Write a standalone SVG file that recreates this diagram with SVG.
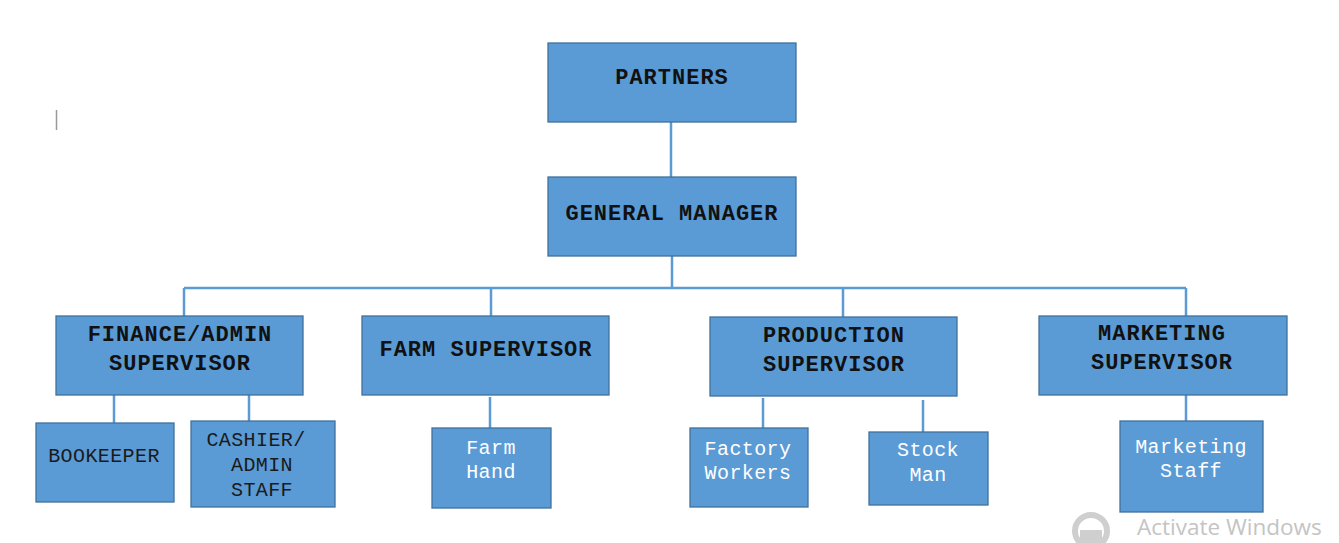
<svg xmlns="http://www.w3.org/2000/svg" width="1339" height="543" viewBox="0 0 1339 543">
<style>
.box{fill:#5B9BD5;stroke:#41719C;stroke-width:1.3}
.b{font-family:"Liberation Mono","Courier New",monospace;font-weight:bold;font-size:22px;letter-spacing:1px;fill:#111;text-anchor:middle}
.n{font-family:"Liberation Mono","Courier New",monospace;font-size:20px;letter-spacing:0.4px;text-anchor:middle}
.d{fill:#1a1a1a}
.w{fill:#ffffff}
.c{stroke:#5B9BD5;stroke-width:2.5;fill:none}
</style>
<rect width="1339" height="543" fill="#ffffff"/>
<line x1="56.5" y1="110" x2="56.5" y2="130" stroke="#9a9a9a" stroke-width="1.5"/>
<g id="connectors">
<path class="c" d="M671 122V177M672 256V288M184 288H1186M184 288V316M491 288V316M843 288V317M1186 288V316"/>
<path class="c" d="M114 395V423M249 395V421M490 397V428M763 398V428M923 400V432M1186 395V421"/>
</g>
<g id="partners"><rect class="box" x="548" y="43" width="248" height="79"/><text class="b" x="672" y="84">PARTNERS</text></g>
<g id="general-manager"><rect class="box" x="548" y="177" width="248" height="79"/><text class="b" x="672" y="220">GENERAL MANAGER</text></g>
<g id="finance"><rect class="box" x="56" y="316" width="247" height="79"/><text class="b" x="180" y="341">FINANCE/ADMIN</text><text class="b" x="180" y="370">SUPERVISOR</text></g>
<g id="farm"><rect class="box" x="362" y="316" width="247" height="79"/><text class="b" x="486" y="356">FARM SUPERVISOR</text></g>
<g id="production"><rect class="box" x="710" y="317" width="247" height="79"/><text class="b" x="834" y="342">PRODUCTION</text><text class="b" x="834" y="371">SUPERVISOR</text></g>
<g id="marketing"><rect class="box" x="1039" y="316" width="248" height="79"/><text class="b" x="1162" y="340">MARKETING</text><text class="b" x="1162" y="369">SUPERVISOR</text></g>
<g id="bookeeper"><rect class="box" x="36" y="423" width="138" height="79"/><text class="n d" x="104" y="462">BOOKEEPER</text></g>
<g id="cashier"><rect class="box" x="191" y="421" width="144" height="86"/><text class="n d" x="256" y="446">CASHIER/</text><text class="n d" x="262" y="471">ADMIN</text><text class="n d" x="262" y="496">STAFF</text></g>
<g id="farm-hand"><rect class="box" x="432" y="428" width="119" height="80"/><text class="n w" x="491" y="454">Farm</text><text class="n w" x="491" y="478">Hand</text></g>
<g id="factory-workers"><rect class="box" x="690" y="428" width="118" height="79"/><text class="n w" x="748" y="455">Factory</text><text class="n w" x="748" y="479">Workers</text></g>
<g id="stock-man"><rect class="box" x="869" y="432" width="119" height="73"/><text class="n w" x="928" y="456">Stock</text><text class="n w" x="928" y="481">Man</text></g>
<g id="marketing-staff"><rect class="box" x="1120" y="421" width="143" height="91"/><text class="n w" x="1191" y="453">Marketing</text><text class="n w" x="1191" y="477">Staff</text></g>
<g id="watermark">
<circle cx="1091" cy="531" r="16" fill="none" stroke="#cfcfcf" stroke-width="6"/>
<rect x="1080" y="530" width="22" height="13" fill="#cfcfcf"/>
<text x="1137" y="535" font-family="'Open Sans','Noto Sans',sans-serif" font-size="22.5" fill="#c4c4c4">Activate Windows</text>
</g>
</svg>
